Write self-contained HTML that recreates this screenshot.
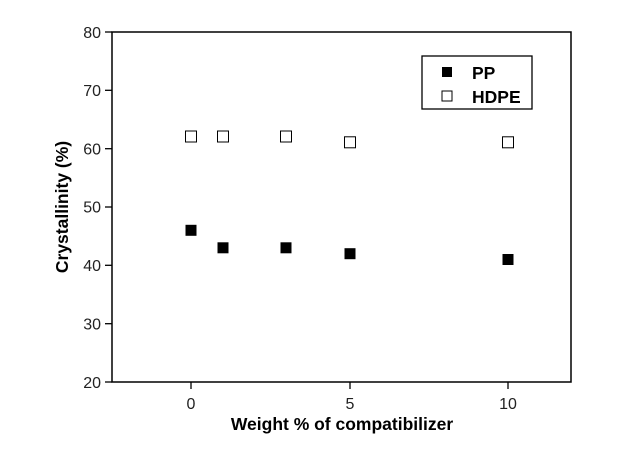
<!DOCTYPE html>
<html><head><style>body{margin:0;background:#fff}</style></head><body>
<svg width="642" height="463" xmlns="http://www.w3.org/2000/svg" font-family="Liberation Sans, sans-serif">
<rect x="112" y="32" width="459" height="350" fill="none" stroke="#000" stroke-width="1.5"/>
<g stroke="#000" stroke-width="1.3">
<line x1="105" y1="32" x2="112" y2="32"/><line x1="105" y1="90.3" x2="112" y2="90.3"/>
<line x1="105" y1="148.7" x2="112" y2="148.7"/><line x1="105" y1="207" x2="112" y2="207"/>
<line x1="105" y1="265.3" x2="112" y2="265.3"/><line x1="105" y1="323.7" x2="112" y2="323.7"/>
<line x1="105" y1="382" x2="112" y2="382"/>
<line x1="191" y1="382" x2="191" y2="389"/><line x1="350" y1="382" x2="350" y2="389"/><line x1="508" y1="382" x2="508" y2="389"/>
</g>
<g font-size="16" fill="#222" text-anchor="end">
<text x="101" y="38">80</text><text x="101" y="96">70</text><text x="101" y="154.5">60</text>
<text x="101" y="212.5">50</text><text x="101" y="271">40</text><text x="101" y="329.5">30</text><text x="101" y="388">20</text>
</g>
<g font-size="16" fill="#222" text-anchor="middle">
<text x="191" y="409">0</text><text x="350" y="409">5</text><text x="508" y="409">10</text>
</g>
<text x="342" y="430" font-size="17.5" font-weight="bold" text-anchor="middle">Weight % of compatibilizer</text>
<text transform="translate(68,207) rotate(-90)" font-size="17.5" font-weight="bold" text-anchor="middle">Crystallinity (%)</text>
<g fill="#fff" stroke="#000" stroke-width="1">
<rect x="185.5" y="131" width="11" height="11"/><rect x="217.5" y="131" width="11" height="11"/>
<rect x="280.5" y="131" width="11" height="11"/><rect x="344.5" y="136.8" width="11" height="11"/>
<rect x="502.5" y="136.8" width="11" height="11"/>
</g>
<g fill="#000">
<rect x="185.5" y="224.8" width="11" height="11"/><rect x="217.5" y="242.3" width="11" height="11"/>
<rect x="280.5" y="242.3" width="11" height="11"/><rect x="344.5" y="248.2" width="11" height="11"/>
<rect x="502.5" y="254" width="11" height="11"/>
</g>
<rect x="422" y="56" width="110" height="53" fill="none" stroke="#000" stroke-width="1.3"/>
<rect x="442" y="67" width="10" height="10" fill="#000"/>
<rect x="442" y="91" width="10" height="10" fill="#fff" stroke="#000"/>
<text x="472" y="79" font-size="17.5" font-weight="bold">PP</text>
<text x="472" y="103" font-size="17.5" font-weight="bold">HDPE</text>
</svg>
</body></html>
